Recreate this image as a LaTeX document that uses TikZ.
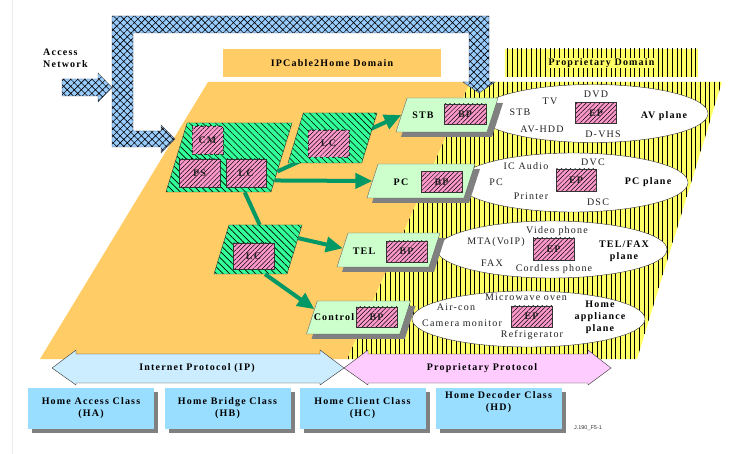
\documentclass[tikz,border=0pt]{standalone}
\usepackage{fontspec}
\setmainfont{Liberation Serif}[LetterSpace=12]
\newfontfamily\figtag{Liberation Sans}
\usepackage{tikz}
\usetikzlibrary{shapes.geometric, arrows.meta, patterns.meta, shadows, calc}
\definecolor{domorange}{HTML}{FFCC66}
\definecolor{propyellow}{HTML}{FFFF66}
\definecolor{netblue}{HTML}{99CCFF}
\definecolor{lcgreen}{HTML}{33FF99}
\definecolor{hatchpink}{HTML}{FF99CC}
\definecolor{devgreen}{HTML}{CCFFCC}
\definecolor{linkgreen}{HTML}{009966}
\definecolor{ipblue}{HTML}{CCECFF}
\definecolor{proppink}{HTML}{FFCCFF}
\definecolor{classblue}{HTML}{99DDFF}
\definecolor{shade}{HTML}{808080}
\definecolor{darktext}{HTML}{222222}
\tikzset{
  lcblock/.style={
    trapezium, trapezium left angle=73, trapezium right angle=107,
    trapezium stretches body, inner xsep=0pt, inner ysep=#1/2,
    draw=black!80, thin, preaction={fill=lcgreen},
    pattern={Lines[angle=-45,distance=4.6pt,line width=0.6pt]},
  },
  devbox/.style={
    trapezium, trapezium left angle=72, trapezium right angle=108,
    trapezium stretches body, inner xsep=0pt, inner ysep=17pt,
    draw=black!60, thin, fill=devgreen,
    drop shadow={shadow xshift=5pt, shadow yshift=-5pt, fill=shade, opacity=1},
  },
  hatchbox/.style={
    rectangle, inner sep=0pt, draw=black!80, thin,
    preaction={fill=hatchpink},
    pattern={Lines[angle=45,distance=3.2pt,line width=0.5pt]},
    font=\bfseries, text=darktext,
  },
  plane/.style={ellipse, inner sep=0pt, draw=black!80, thin, fill=white},
  item/.style={inner sep=0pt, text=darktext},
  planetag/.style={inner sep=0pt, font=\bfseries, align=center},
  devtag/.style={inner sep=0pt, font=\bfseries},
  link/.style={draw=linkgreen, line width=4pt},
  linkarrow/.style={link, -{Triangle[length=17pt,width=15pt]}},
  netpipe/.style={
    preaction={fill=netblue}, draw=black!70, thin,
    pattern={Hatch[angle=45,distance=5pt,line width=0.6pt]},
  },
  protoarrow/.style={draw=black!80, thin},
  classbox/.style={
    rectangle, minimum width=126pt, minimum height=41pt,
    fill=classblue, font=\bfseries, align=center,
    drop shadow={shadow xshift=4pt, shadow yshift=-4pt, fill=shade, opacity=1},
  },
}

\begin{document}
\begin{tikzpicture}[x=1pt, y=-1pt]
  \useasboundingbox (0,0) rectangle (731,454);
  \draw[black!8] (12,0) -- (12,454);

  % domains
  \fill[propyellow] (470,82) -- (722,82) -- (637,359) -- (347,359) -- cycle;
  \fill[pattern={Lines[angle=90,distance=4.7pt,line width=0.6pt]}]
    (470,82) -- (722,82) -- (637,359) -- (347,359) -- cycle;
  \fill[domorange] (208,82) -- (470,82) -- (347,359) -- (40,359) -- cycle;

  \node[fill=domorange, minimum width=218pt, minimum height=28pt, font=\bfseries] (ipdom) at (332,63) {IPCable2Home Domain};
  \node[preaction={fill=propyellow}, pattern={Lines[angle=90,distance=4.7pt,line width=0.6pt]},
        minimum width=193pt, minimum height=28pt] (prdom) at (601.5,63) {};
  \node[fill=propyellow, inner xsep=1pt, inner ysep=0.5pt, font=\bfseries] (prdomtxt) at (prdom) {Proprietary Domain};

  % access network
  \draw[netpipe] (112,147) -- (112,16) -- (489,16) -- (489,82) -- (495,82) -- (479,93) -- (463,82)
    -- (469,82) -- (469,33) -- (133,33) -- (133,131) -- (161,131) -- (161,125) -- (175,139)
    -- (161,153) -- (161,147) -- cycle;
  \draw[netpipe] (62,79) -- (98,79) -- (98,73) -- (112,87.5) -- (98,102) -- (98,96) -- (62,96) -- cycle;
  \node[anchor=west, align=left, font=\bfseries, inner sep=0pt] (lblaccess) at (43,58) {Access\\Network};

  % planes
  \node[plane, minimum width=230pt, minimum height=58pt] (avpl) at (593,113.5) {};
  \node[plane, minimum width=230pt, minimum height=59pt] (pcpl) at (573,182.5) {};
  \node[plane, minimum width=230pt, minimum height=57pt] (telpl) at (552,249.5) {};
  \node[plane, minimum width=233pt, minimum height=56pt] (hapl) at (528.5,319) {};

  \node[item] (avstb) at (520,112) {STB};
  \node[item] (avtv) at (550,101) {TV};
  \node[item] (avdvd) at (596,94) {DVD};
  \node[item] (avhdd) at (542,129) {AV-HDD};
  \node[item] (avvhs) at (603,134) {D-VHS};
  \node[hatchbox, minimum width=41pt, minimum height=21pt] (avep) at (596,113) {EP};
  \node[planetag] (avtag) at (664,116) {AV plane};

  \node[item] (pcaudio) at (526,166) {IC Audio};
  \node[item] (pcdvc) at (593,162) {DVC};
  \node[item] (pcpc) at (496,182) {PC};
  \node[item] (pcprn) at (531,196) {Printer};
  \node[item] (pcdsc) at (598,202) {DSC};
  \node[hatchbox, minimum width=40pt, minimum height=22pt] (pcep) at (576,180) {EP};
  \node[planetag] (pctag) at (648,182) {PC plane};

  \node[item] (telvid) at (557,231) {Video phone};
  \node[item] (telmta) at (496,242) {MTA(VoIP)};
  \node[item] (telfax) at (492,263) {FAX};
  \node[item] (telcl) at (554,269) {Cordless phone};
  \node[hatchbox, minimum width=41pt, minimum height=22pt] (telep) at (553.5,249) {EP};
  \node[planetag] (teltag) at (624,251.5) {TEL/FAX\\plane};

  \node[item] (hamw) at (526,297) {Microwave oven};
  \node[item] (haac) at (456,307) {Air-con};
  \node[item] (hacam) at (462,323) {Camera monitor};
  \node[item] (hafr) at (532,335) {Refrigerator};
  \node[hatchbox, minimum width=41pt, minimum height=21pt] (haep) at (531.5,316.5) {EP};
  \node[planetag] (hatag) at (600,317) {Home\\appliance\\plane};

  % line cards and links
  \node[lcblock=69pt, minimum width=126pt] (core) at (229,157.5) {};
  \node[hatchbox, dashed, minimum width=31pt, minimum height=28pt] (cm) at (207.5,140) {CM};
  \node[hatchbox, minimum width=41pt, minimum height=28pt] (ps) at (199.5,173) {PS};
  \node[hatchbox, minimum width=40pt, minimum height=28pt] (lc) at (246,173) {LC};

  \node[devbox, minimum width=102pt] (stb) at (447,115) {};
  \node[devbox, minimum width=108pt] (pc) at (421,181) {};
  \node[devbox, minimum width=103pt] (tel) at (388.5,250) {};
  \node[devbox, minimum width=104pt, inner ysep=16.5pt] (ctrl) at (358.5,317.5) {};

  \draw[linkarrow] ($(core.bottom right corner)!.3!(core.top right corner)$) -- (stb.left side);
  \draw[linkarrow] ($(core.bottom right corner)!.17!(core.top right corner)$) -- (pc.left side);

  \node[lcblock=50pt, minimum width=89pt] (lcup) at (332.5,138) {};
  \node[hatchbox, dashed, minimum width=41pt, minimum height=27pt] (lcupin) at (328.5,143.5) {LC};
  \node[lcblock=49pt, minimum width=88pt] (lcmid) at (258,249.5) {};
  \node[hatchbox, minimum width=41pt, minimum height=26pt] (lcmidin) at (253.5,256) {LC};

  \draw[link] ($(core.bottom left corner)!.75!(core.bottom right corner)$) -- ($(lcmid.top left corner)!.42!(lcmid.top right corner)$);
  \draw[linkarrow] ($(lcmid.bottom right corner)!.73!(lcmid.top right corner)$) -- ($(tel.bottom left corner)!.55!(tel.top left corner)$);
  \draw[linkarrow] ($(lcmid.bottom left corner)!.7!(lcmid.bottom right corner)$) -- ($(ctrl.bottom left corner)!.75!(ctrl.top left corner)$);

  % devices
  \node[devtag] (stbtag) at (423,115) {STB};
  \node[hatchbox, minimum width=42pt, minimum height=20pt] (stbbp) at (465,114) {BP};
  \node[devtag] (pctag2) at (401,182) {PC};
  \node[hatchbox, minimum width=41pt, minimum height=21pt] (pcbp) at (441.5,182) {BP};
  \node[devtag] (teltag2) at (364,251) {TEL};
  \node[hatchbox, minimum width=41pt, minimum height=21pt] (telbp) at (406.5,251.5) {BP};
  \node[devtag] (ctrltag) at (334,317) {Control};
  \node[hatchbox, minimum width=41pt, minimum height=20pt] (ctrlbp) at (376.5,317) {BP};

  % protocols
  \filldraw[protoarrow, fill=ipblue] (52,368) -- (76,350) -- (76,354) -- (320,354) -- (320,350) -- (344,368)
    -- (320,385) -- (320,383) -- (76,383) -- (76,385) -- cycle;
  \filldraw[protoarrow, fill=proppink] (344,368) -- (368,350) -- (368,354) -- (588,354) -- (588,350) -- (611,368)
    -- (588,385) -- (588,383) -- (368,383) -- (368,385) -- cycle;
  \node[font=\bfseries, inner sep=0pt] (iptag) at (197,368) {Internet Protocol (IP)};
  \node[font=\bfseries, inner sep=0pt] (pptag) at (482,368) {Proprietary Protocol};

  % classes
  \node[classbox] (ha) at (91,408.5) {Home Access Class\\(HA)};
  \node[classbox] (hb) at (227.5,408.5) {Home Bridge Class\\(HB)};
  \node[classbox] (hc) at (362.5,408.5) {Home Client Class\\(HC)};
  \node[classbox] (hd) at (498.5,408.5) {Home Decoder Class\\(HD)\\[2pt]};
  \node[font=\figtag\fontsize{5.5}{6}\selectfont, text=black!80, inner sep=0pt] (figid) at (588,428) {J.190\_F5-1};

\end{tikzpicture}
\end{document}
